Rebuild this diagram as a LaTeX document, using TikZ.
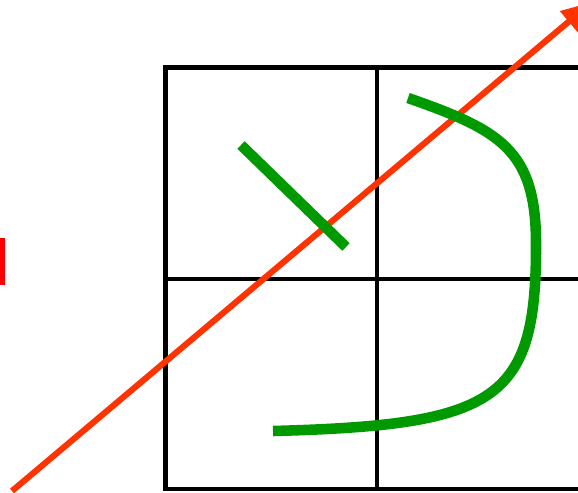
\documentclass[tikz,border=0pt]{standalone}
\usepackage{xcolor}
\usepackage{tikz}
\usetikzlibrary{arrows.meta}
\definecolor{raycol}{HTML}{FF3300}
\definecolor{strokecol}{HTML}{009900}
\tikzstyle{gridline} = [draw=black, line width=4.2pt]
\tikzstyle{ray}      = [draw=raycol, line width=5.2pt, -{Triangle[length=26pt, width=22pt]}]
\tikzstyle{stroke}   = [draw=strokecol, line width=9pt]
\tikzstyle{marker}   = [fill=red]

\begin{document}
\begin{tikzpicture}[x=0.03cm, y=-0.03cm]
\useasboundingbox (0,0) rectangle (578,492);
\clip (0,0) rectangle (578,492);
% grid
\coordinate (tl) at (165.5,67.5);
\coordinate (br) at (589,489);
\draw [gridline] (tl) rectangle (br);
\draw [gridline] (377,67.5) -- (377,489);
\draw [gridline] (165.5,279) -- (589,279);
% marker at the left edge
\fill [marker] (0,238) rectangle (5,285);
% ray
\coordinate (raystart) at (12,491);
\coordinate (rayend) at (592,2);
\draw [ray] (raystart) -- (rayend);
% strokes
\coordinate (s1) at (241,145);
\coordinate (s2) at (346,247);
\coordinate (c1) at (408,98);
\coordinate (c2) at (536,240);
\coordinate (c3) at (273,431);
\draw [stroke] (s1) -- (s2);
\draw [stroke] (c1) .. controls (500,130) and (535,150) .. (c2)
  .. controls (537,400) and (500,425) .. (c3);
\end{tikzpicture}
\end{document}
